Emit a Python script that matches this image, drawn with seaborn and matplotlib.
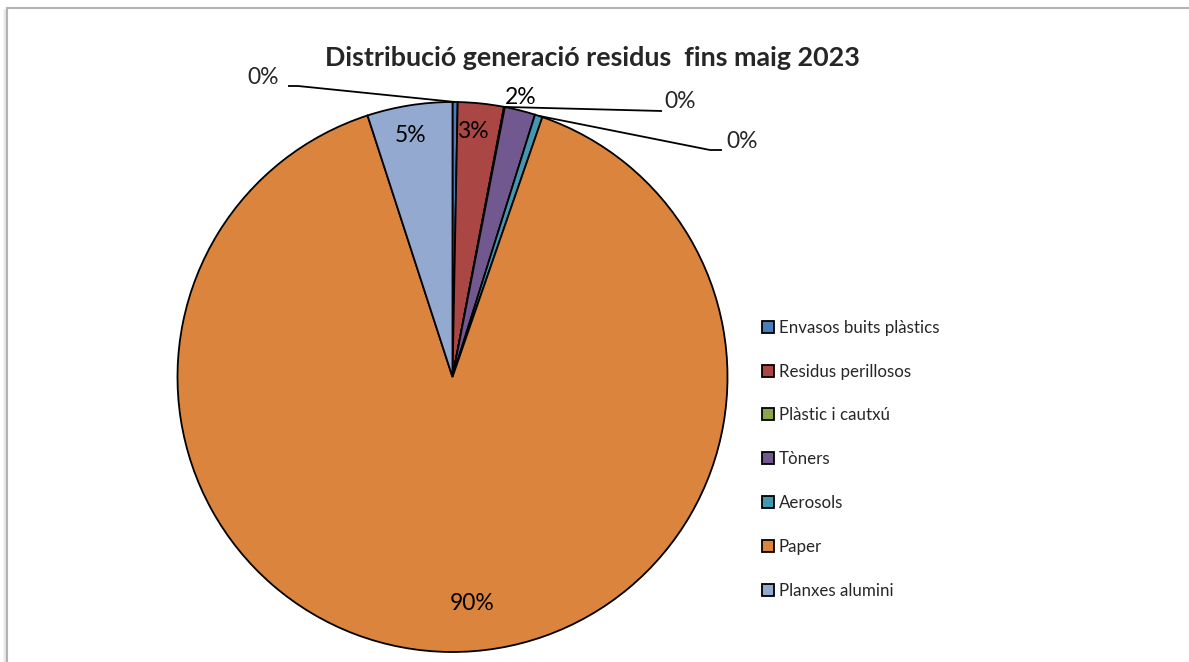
import numpy as np
import matplotlib
matplotlib.use("Agg")
import matplotlib.pyplot as plt
import seaborn as sns
from matplotlib.patches import Rectangle
from matplotlib.lines import Line2D

sns.set_theme(style="white")
plt.rcParams['font.family'] = ['Lato', 'DejaVu Sans']

categories = ["Envasos buits plàstics", "Residus perillosos", "Plàstic i cautxú",
              "Tòners", "Aerosols", "Paper", "Planxes alumini"]
values = [0.3, 2.7, 0.05, 1.8, 0.45, 89.7, 5.0]
pct_labels = ["0%", "3%", "0%", "2%", "0%", "90%", "5%"]
colors = ["#4A7EBB", "#AA4643", "#89A54E", "#71588F", "#4198AF", "#DB843D", "#93A9CF"]

W, H = 1189, 662
fig = plt.figure(figsize=(W / 100, H / 100), dpi=100)

# frame
fig.patches.append(Rectangle((7 / W, -0.1), 1.2, (H - 8) / H + 0.1, transform=fig.transFigure,
                             facecolor="none", edgecolor="#B3B3B3", linewidth=1.5, zorder=-1))
for i, a in enumerate([0.12, 0.08, 0.05, 0.03]):
    fig.lines.append(Line2D([(6 - i) / W] * 2, [0, (H - 9) / H], transform=fig.transFigure,
                            color="black", alpha=a, linewidth=1, zorder=-1))

cx, cy, R = 452.5, 377, 275.0
ax = fig.add_axes([0, 0, 1, 1])
ax.set_facecolor("none")
ax.set_zorder(2)
wedges, _ = ax.pie(values, colors=colors, startangle=90, counterclock=False,
                   wedgeprops=dict(edgecolor="black", linewidth=1.3))
ax.set_xlim(-cx / R, (W - cx) / R)
ax.set_ylim(-(H - cy) / R, cy / R)
ax.set_aspect("auto")
ax.axis("off")


def mid(w, r=1.0):
    a = np.deg2rad((w.theta1 + w.theta2) / 2)
    return r * np.cos(a), r * np.sin(a)


def px(x, y):
    return (x - cx) / R, (cy - y) / R


fs = 16.5
# label positions (pixel layout)
label_pos = {1: (473, 131), 6: (411, 135), 5: (472, 603), 3: (521, 97)}
for i, p in label_pos.items():
    x, y = px(*p)
    ax.text(x, y, pct_labels[i], ha="center", va="center", fontsize=fs, color="black")

# leader-lined labels
leaders = [(0, (298, 86), (288, 86), (263, 77)),
           (2, (662, 111), (662, 111), (680, 102)),
           (4, (710, 150), (722, 150), (742, 141))]
for i, bend, end, lab in leaders:
    ax0, ay0 = mid(wedges[i], 1.0)
    bx, by = px(*bend)
    ex, ey = px(*end)
    ax.plot([ax0, bx, ex], [ay0, by, ey], color="black", linewidth=1.3, solid_capstyle="butt")
    lx, ly = px(*lab)
    ax.text(lx, ly, pct_labels[i], ha="center", va="center", fontsize=fs)

fig.text(592 / W, 1 - 58 / H, "Distribució generació residus  fins maig 2023",
         ha="center", va="center", fontsize=19.4, fontweight="bold")

handles = [Rectangle((0, 0), 1, 1, facecolor=c, edgecolor="black", linewidth=1.3) for c in colors]
leg = fig.legend(handles, categories, loc="upper left", bbox_to_anchor=(755 / W, 1 - 313 / H),
                 frameon=False, fontsize=12.2, handlelength=0.7, handleheight=0.7,
                 handletextpad=0.3, labelspacing=1.64, borderaxespad=0)

fig.savefig("out.png", dpi=100)
